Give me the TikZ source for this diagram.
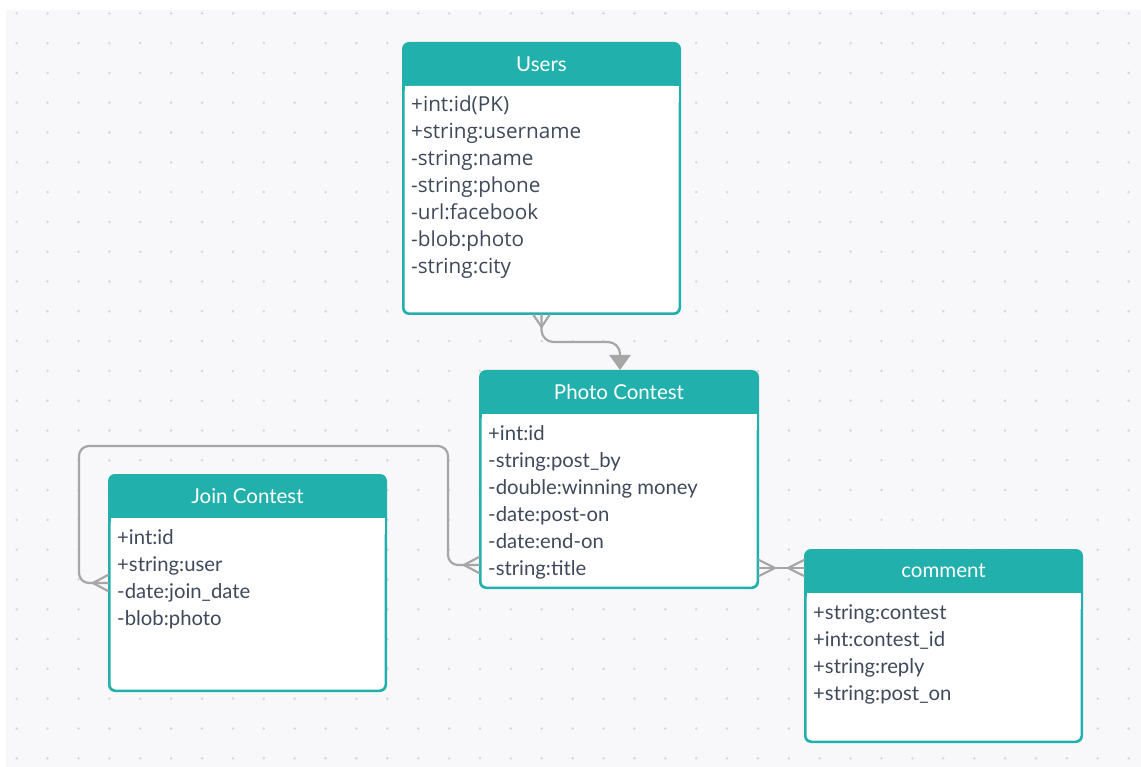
\documentclass[tikz,border=0pt]{standalone}
\usepackage{fontspec}
\setmainfont{Lato}
\newfontfamily\usersfont{Open Sans}
\usetikzlibrary{arrows.meta,calc}
\definecolor{tealA}{HTML}{22B0AC}
\definecolor{txtA}{HTML}{3E4A5B}
\definecolor{connA}{HTML}{A6A6A6}
\definecolor{bgA}{HTML}{F8F8FA}
\definecolor{dotA}{HTML}{D6D6DC}
\tikzset{
  hdr/.style={text=white, font=\fontsize{20.5}{23}\selectfont, inner sep=0pt},
  rowtxt/.style={text=txtA, font=\fontsize{20.3}{23}\selectfont, inner sep=0pt, anchor=base west},
  boxnode/.style={inner sep=0pt, outer sep=0pt},
  cline/.style={draw=connA, line width=2.2pt, line cap=round, line join=round},
}
\newcommand\erbox[8]{%
  \pgfmathsetmacro\bw{#4-#2}\pgfmathsetmacro\bh{#5-#3}%
  \node[boxnode, minimum width=\bw pt, minimum height=\bh pt] (#1) at ({(#2+#4)/2},{(#3+#5)/2}) {};
  \fill[tealA, rounded corners=7pt] (#2,#3) rectangle (#4,#5);
  \fill[white, rounded corners=5pt] (#2+2.5,#3+44) rectangle (#4-2.5,#5-2.5);
  \fill[white] (#2+2.5,#3+44) rectangle (#4-2.5,#3+60);
  \node[hdr] (#1-title) at ({(#2+#4)/2},#3+22) {#6};
  \foreach \r [count=\k] in {#7} {\node[rowtxt, #8] (#1-r\k) at (#2+9,#3+70+27*\k-27) {\r};}
}
\begin{document}
\begin{tikzpicture}[x=1pt,y=-1pt]
\useasboundingbox (0,0) rectangle (1141,767);
\fill[bgA] (6,10) rectangle (1141,767);
\foreach \i in {0,...,36} \foreach \j in {0,...,25} \fill[dotA] (16.7+30.886*\i,13.3+29.8*\j) circle (1.4);

\erbox{users}{402}{42}{681}{315}{Users}{+int:id(PK),+string:username,-string:name,-string:phone,-url:facebook,-blob:photo,-string:city}{font=\usersfont\fontsize{20.7}{23}\selectfont}
\erbox{pc}{479}{370}{759}{589}{Photo Contest}{+int:id,-string:post\_by,-double:winning money,-date:post-on,-date:end-on,-string:title}{}
\erbox{jc}{108}{474}{387}{692}{Join Contest}{+int:id,+string:user,-date:join\_date,-blob:photo}{}
\erbox{cm}{804}{549}{1083}{743}{comment}{+string:contest,+int:contest\_id,+string:reply,+string:post\_on}{}

% Users -> Photo Contest
\draw[cline, rounded corners=12pt, -{Triangle[width=21pt,length=15pt]}] (users.south) -- ++(0,27) -| ($(pc.north)+(1,0)$);
\draw[cline] ($(users.south)+(-8,0)$) -- ($(users.south)+(0,12)$) -- ($(users.south)+(8,0)$);

% Photo Contest -> Join Contest
\coordinate (a1) at ($(pc.west)+(0,85.5)$);
\draw[cline, rounded corners=10pt] (a1) -- ++(-31,0) -- ++(0,-119) -- ++(-369,0) -- ++(0,137) -- (jc.west);
\draw[cline] ($(a1)+(0,-8)$) -- ($(a1)+(-15,0)$) -- ($(a1)+(0,8)$);
\draw[cline] ($(jc.west)+(0,-8)$) -- ($(jc.west)+(-15,0)$) -- ($(jc.west)+(0,8)$);

% Photo Contest -- comment
\coordinate (b1) at ($(pc.east)+(0,88.5)$);
\coordinate (b2) at (cm.west |- b1);
\draw[cline] (b1) -- (b2);
\draw[cline] ($(b1)+(0,-8)$) -- ($(b1)+(16,0)$) -- ($(b1)+(0,8)$);
\draw[cline] ($(b2)+(0,-8)$) -- ($(b2)+(-16,0)$) -- ($(b2)+(0,8)$);
\end{tikzpicture}
\end{document}
